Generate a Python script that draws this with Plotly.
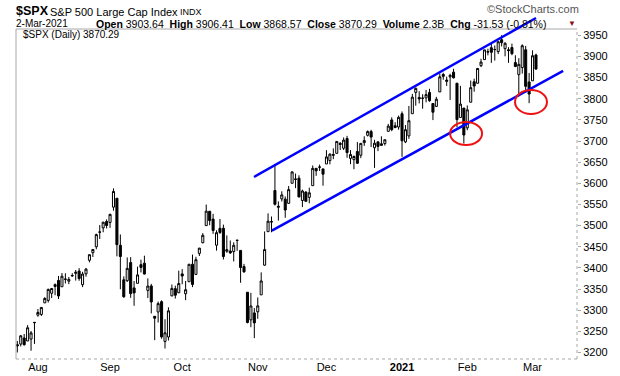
import pandas as pd
import plotly.graph_objects as go

# ---------------- data (SPX daily, 24-Jul-2020 .. 2-Mar-2021) ----------------
holidays = ["2020-09-07", "2020-11-26", "2020-12-25", "2021-01-01", "2021-01-18", "2021-02-15"]
dates = [d.strftime("%Y-%m-%d") for d in pd.bdate_range("2020-07-24", "2021-03-02")
         if d.strftime("%Y-%m-%d") not in holidays]

open_ = [
    3218.58, 3219.84, 3234.27, 3227.22, 3231.76, 3270.45,
    3288.26, 3289.92, 3317.37, 3323.17, 3340.05, 3356.04, 3370.34, 3355.46, 3372.95, 3368.66,
    3380.86, 3387.04, 3392.51, 3360.48, 3386.01, 3418.09, 3435.95, 3449.97, 3485.14, 3494.69, 3509.73,
    3507.44, 3543.76, 3564.74, 3453.60, 3371.88, 3369.82, 3412.56, 3352.70, 3363.56, 3407.73,
    3411.23, 3346.86, 3357.38, 3285.57, 3295.75, 3320.11, 3226.14, 3236.66, 3333.90, 3350.92, 3341.21,
    3385.87, 3338.94, 3367.27, 3408.74, 3384.56, 3434.28, 3459.67, 3500.02, 3534.01, 3515.47, 3453.72,
    3493.50, 3493.66, 3439.38, 3439.91, 3438.50, 3464.90, 3441.42, 3403.15, 3342.48, 3277.17, 3293.59,
    3296.20, 3336.25, 3406.46, 3485.74, 3508.34, 3583.04, 3543.26, 3563.22, 3562.67, 3552.57,
    3600.16, 3610.31, 3612.09, 3559.41, 3579.31, 3566.82, 3594.52, 3635.50, 3638.55, 3634.18,
    3645.87, 3653.78, 3668.28, 3670.94, 3694.73, 3683.05, 3705.98, 3659.13, 3656.08, 3675.27, 3666.41,
    3696.25, 3713.65, 3722.39, 3684.28, 3698.08, 3693.42, 3694.03, 3723.03, 3750.01, 3736.19, 3733.27,
    3764.61, 3698.02, 3712.20, 3764.71, 3815.05, 3803.14, 3801.62, 3802.23, 3814.98, 3788.73,
    3781.88, 3816.22, 3857.46, 3844.24, 3851.68, 3862.96, 3836.83, 3755.75, 3778.05,
    3731.17, 3791.84, 3840.27, 3836.66, 3878.30, 3892.59, 3910.49, 3920.78, 3916.40, 3911.65,
    3939.61, 3918.50, 3915.86, 3921.16, 3885.55, 3857.07, 3873.71, 3915.80, 3839.66,
    3842.51, 3903.64,
]
high = [
    3227.26, 3241.43, 3243.72, 3264.74, 3250.92, 3272.17,
    3302.73, 3306.84, 3330.77, 3351.03, 3352.54, 3363.29, 3381.01, 3387.89, 3387.24, 3378.51,
    3387.59, 3395.06, 3399.54, 3390.80, 3399.96, 3432.09, 3444.21, 3481.07, 3501.38, 3509.23, 3514.77,
    3528.03, 3588.11, 3564.85, 3479.15, 3379.97, 3424.77, 3425.55, 3368.95, 3402.93, 3419.48,
    3428.92, 3375.17, 3362.27, 3285.57, 3320.31, 3323.35, 3278.70, 3306.88, 3360.74, 3357.92, 3393.56,
    3397.18, 3369.10, 3409.57, 3431.56, 3426.26, 3447.28, 3482.34, 3549.85, 3534.01, 3527.94, 3489.08,
    3515.76, 3502.42, 3476.93, 3464.86, 3460.53, 3466.46, 3441.42, 3409.51, 3342.48, 3341.05, 3304.93,
    3330.14, 3389.49, 3486.25, 3529.05, 3521.58, 3645.99, 3557.22, 3581.16, 3569.02, 3593.66,
    3628.51, 3623.11, 3619.09, 3585.22, 3581.23, 3589.81, 3642.31, 3635.50, 3644.31, 3634.18,
    3678.45, 3670.96, 3682.73, 3699.20, 3697.41, 3708.45, 3712.39, 3678.49, 3665.91, 3697.61, 3695.29,
    3711.27, 3725.12, 3726.70, 3702.90, 3698.26, 3711.24, 3703.82, 3740.51, 3756.12, 3744.63, 3760.20,
    3769.99, 3737.83, 3783.04, 3811.55, 3826.69, 3817.86, 3810.78, 3820.96, 3823.60, 3788.73,
    3804.53, 3859.75, 3861.45, 3852.31, 3859.23, 3870.90, 3836.83, 3830.50, 3778.05,
    3784.32, 3843.09, 3847.51, 3872.42, 3894.56, 3915.77, 3918.35, 3931.50, 3925.99, 3937.23,
    3950.43, 3933.61, 3921.98, 3930.41, 3902.92, 3895.98, 3928.65, 3925.02, 3861.08,
    3914.50, 3906.41,
]
low = [
    3200.05, 3214.25, 3216.17, 3227.22, 3204.13, 3220.26,
    3284.53, 3286.37, 3317.37, 3318.14, 3328.72, 3335.44, 3326.44, 3355.46, 3363.35, 3361.64,
    3379.22, 3370.15, 3369.66, 3354.69, 3379.31, 3413.13, 3425.84, 3444.15, 3468.35, 3484.32, 3493.25,
    3494.60, 3535.23, 3427.41, 3349.63, 3329.27, 3366.84, 3329.25, 3310.47, 3363.56, 3389.25,
    3384.45, 3328.82, 3292.40, 3229.10, 3270.95, 3232.57, 3209.45, 3228.44, 3332.91, 3327.54, 3340.47,
    3361.39, 3323.69, 3367.27, 3354.54, 3384.56, 3428.15, 3458.07, 3499.61, 3500.86, 3480.55, 3440.89,
    3480.45, 3419.93, 3435.65, 3433.06, 3415.34, 3440.45, 3364.86, 3388.71, 3268.89, 3259.82, 3233.94,
    3279.74, 3336.25, 3405.17, 3485.74, 3484.34, 3547.48, 3511.91, 3557.00, 3518.58, 3552.57,
    3600.16, 3588.68, 3567.33, 3543.84, 3556.85, 3552.77, 3594.52, 3617.76, 3629.33, 3594.39,
    3645.87, 3644.84, 3657.17, 3670.94, 3678.88, 3678.83, 3660.54, 3645.18, 3633.40, 3645.84, 3659.62,
    3688.57, 3710.87, 3685.84, 3636.48, 3676.16, 3689.28, 3689.32, 3723.03, 3723.31, 3730.21, 3726.88,
    3662.71, 3695.07, 3705.34, 3764.71, 3783.60, 3789.02, 3776.51, 3791.50, 3792.86, 3749.62,
    3780.37, 3816.22, 3845.05, 3830.41, 3797.16, 3847.78, 3732.48, 3755.75, 3694.12,
    3725.62, 3791.84, 3816.68, 3836.66, 3874.93, 3892.59, 3902.64, 3884.94, 3890.39, 3905.78,
    3923.85, 3900.43, 3885.03, 3903.07, 3874.71, 3805.59, 3859.60, 3814.04, 3789.54,
    3842.51, 3868.57,
]
close = [
    3215.63, 3239.41, 3218.44, 3258.44, 3246.22, 3271.12,
    3294.61, 3306.51, 3327.77, 3349.16, 3351.28, 3360.47, 3333.69, 3380.35, 3373.43, 3372.85,
    3381.99, 3389.78, 3374.85, 3385.51, 3397.16, 3431.28, 3443.62, 3478.73, 3484.55, 3508.01, 3500.31,
    3526.65, 3580.84, 3455.06, 3426.96, 3331.84, 3398.96, 3339.19, 3340.97, 3383.54, 3401.20,
    3385.49, 3357.01, 3319.47, 3281.06, 3315.57, 3236.92, 3246.59, 3298.46, 3351.60, 3335.47, 3363.00,
    3380.80, 3348.42, 3408.60, 3360.97, 3419.44, 3446.83, 3477.14, 3534.22, 3511.93, 3488.67, 3483.34,
    3483.81, 3426.92, 3443.12, 3435.56, 3453.49, 3465.39, 3400.97, 3390.68, 3271.03, 3310.11, 3269.96,
    3310.24, 3369.16, 3443.44, 3510.45, 3509.44, 3550.50, 3545.53, 3572.66, 3537.01, 3585.15,
    3626.91, 3609.53, 3567.79, 3581.87, 3557.54, 3577.59, 3635.41, 3629.65, 3638.35, 3621.63,
    3662.45, 3669.01, 3666.72, 3699.12, 3691.96, 3702.25, 3672.82, 3668.10, 3663.46, 3647.49, 3694.62,
    3701.17, 3722.48, 3709.41, 3694.92, 3687.26, 3690.01, 3703.06, 3735.36, 3727.04, 3732.04, 3756.07,
    3700.65, 3726.86, 3748.14, 3803.79, 3824.68, 3799.61, 3801.19, 3809.84, 3795.54, 3768.25,
    3798.91, 3851.85, 3853.07, 3841.47, 3855.36, 3849.62, 3750.77, 3787.38, 3714.24,
    3773.86, 3826.31, 3830.17, 3871.74, 3886.83, 3915.59, 3911.23, 3909.88, 3916.38, 3934.83,
    3932.59, 3931.33, 3913.97, 3906.71, 3876.50, 3881.37, 3925.43, 3829.34, 3811.15,
    3901.82, 3870.29,
]
assert len(dates) == len(open_) == len(high) == len(low) == len(close), (len(dates), len(open_))

month_ticks = ["2020-08-03", "2020-09-01", "2020-10-01", "2020-11-02",
               "2020-12-01", "2021-01-04", "2021-02-01", "2021-03-01"]
month_labels = ["Aug", "Sep", "Oct", "Nov", "Dec", "<b>2021</b>", "Feb", "Mar"]
price_ticks = list(range(3200, 3951, 50))

# trend channel (bar index, price) and highlighted lows (bar index, price boxes)
upper_channel = [(68.9, 3615), (151.0, 3991)]
lower_channel = [(74.1, 3488), (158.9, 3866)]
circles = [(126.0, 135.3, 3690.6, 3745.0), (144.9, 154.2, 3764.0, 3820.7)]

# ---------------- layout geometry ----------------
W, H = 620, 376
L, R, T, B = 16, 577, 29, 359
X_RANGE = [-0.38, 162.94]
Y_RANGE = [3184.6, 3965.0]
FONT = "Liberation Sans, Arial, sans-serif"


def xp(i):
    return (i - X_RANGE[0]) / (X_RANGE[1] - X_RANGE[0])


def yp(p):
    return (p - Y_RANGE[0]) / (Y_RANGE[1] - Y_RANGE[0])


def pxx(x):
    return (x - L) / (R - L)


def pxy(y):
    return 1 - (y - T) / (B - T)


fig = go.Figure(go.Candlestick(
    x=dates, open=open_, high=high, low=low, close=close,
    increasing=dict(line=dict(color="black", width=1), fillcolor="white"),
    decreasing=dict(line=dict(color="black", width=1), fillcolor="black"),
    whiskerwidth=0, showlegend=False, hoverinfo="x+y",
))

shapes = []
# frame
shapes.append(dict(type="line", xref="paper", yref="paper", x0=0, x1=0, y0=0, y1=1,
                   line=dict(color="#a8a8a8", width=1)))
shapes.append(dict(type="line", xref="paper", yref="paper", x0=0, x1=1, y0=1, y1=1,
                   line=dict(color="#a8a8a8", width=1)))
shapes.append(dict(type="line", xref="paper", yref="paper", x0=1, x1=1, y0=0, y1=1,
                   line=dict(color="#a8a8a8", width=1, dash="dot")))
shapes.append(dict(type="line", xref="paper", yref="paper", x0=0, x1=1, y0=0, y1=0,
                   line=dict(color="#a8a8a8", width=1, dash="dot")))
# channel lines
for (i0, p0), (i1, p1) in (upper_channel, lower_channel):
    shapes.append(dict(type="line", xref="paper", yref="paper",
                       x0=xp(i0), y0=yp(p0), x1=xp(i1), y1=yp(p1),
                       line=dict(color="#0000ff", width=2.5)))
# red circles
for x0, x1, y0, y1 in circles:
    shapes.append(dict(type="circle", xref="x", yref="y", x0=x0, x1=x1, y0=y0, y1=y1,
                       line=dict(color="#ee1111", width=2)))

ann = []
ann.append(dict(text="<b>$SPX</b>", x=pxx(14), y=pxy(11), font=dict(size=12.5, color="#000")))
ann.append(dict(text="S&P 500 Large Cap Index", x=pxx(48), y=pxy(12), font=dict(size=11, color="#000")))
ann.append(dict(text="INDX", x=pxx(178), y=pxy(12), font=dict(size=9, color="#000")))
ann.append(dict(text="2-Mar-2021", x=pxx(14), y=pxy(23.5), font=dict(size=10, color="#000")))
ann.append(dict(text="<b>Open</b> 3903.64  <b>High</b> 3906.41  <b>Low</b> 3868.57  <b>Close</b> 3870.29  "
                     "<b>Volume</b> 2.3B  <b>Chg</b> -31.53 (-0.81%)",
                x=pxx(94), y=pxy(23.5), font=dict(size=10.5, color="#000")))
ann.append(dict(text="▼", x=pxx(566), y=pxy(23), font=dict(size=8, color="#8b1020")))
ann.append(dict(text="©StockCharts.com", x=pxx(485), y=pxy(9), font=dict(size=11, color="#555")))
ann.append(dict(text="$SPX (Daily) 3870.29", x=pxx(21), y=pxy(34.5), font=dict(size=10, color="#000")))
for a in ann:
    a.update(xref="paper", yref="paper", xanchor="left", yanchor="middle", showarrow=False)
    a["font"]["family"] = FONT

fig.update_layout(
    width=W, height=H,
    margin=dict(l=L, r=W - R, t=T, b=H - B, pad=0, autoexpand=False),
    paper_bgcolor="white", plot_bgcolor="white",
    font=dict(family=FONT, size=11, color="#000"),
    boxgap=0.15,
    shapes=shapes, annotations=ann,
    xaxis=dict(type="category", range=X_RANGE, rangeslider=dict(visible=False),
               tickmode="array", tickvals=month_ticks, ticktext=month_labels,
               showgrid=False, zeroline=False, showline=False, ticks="",
               tickfont=dict(size=11, color="#000")),
    yaxis=dict(side="right", range=Y_RANGE, tickmode="array", tickvals=price_ticks,
               showgrid=False, zeroline=False, showline=False, ticks="outside",
               ticklen=3, tickcolor="#a8a8a8", tickfont=dict(size=11, color="#000")),
)

fig.write_html("out.html", config={"displayModeBar": False},
               post_script="document.body.style.margin='0px';")
